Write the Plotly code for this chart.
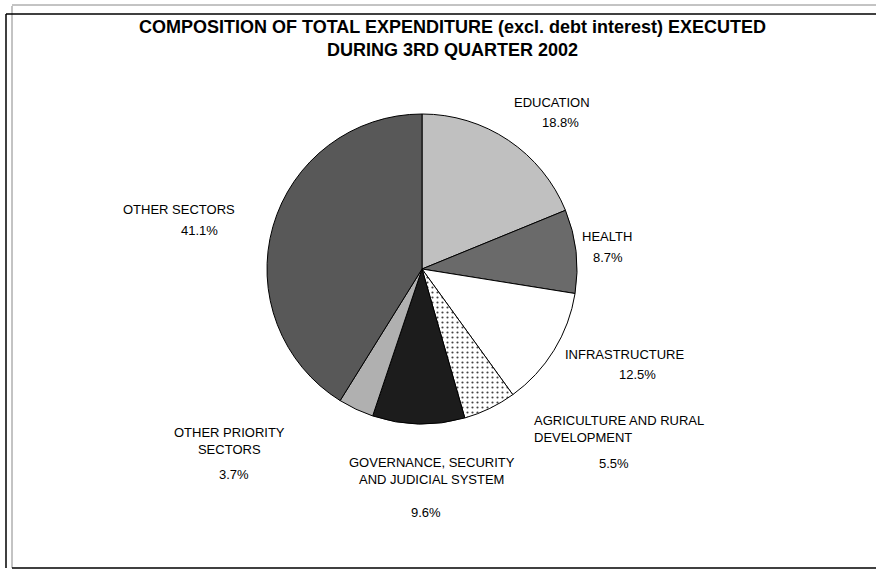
import plotly.graph_objects as go

W, H = 876, 572

categories = ["EDUCATION", "HEALTH", "INFRASTRUCTURE", "AGRICULTURE AND RURAL DEVELOPMENT",
              "GOVERNANCE, SECURITY AND JUDICIAL SYSTEM", "OTHER PRIORITY SECTORS", "OTHER SECTORS"]
values = [18.8, 8.7, 12.5, 5.5, 9.6, 3.7, 41.1]
value_labels = ["18.8%", "8.7%", "12.5%", "5.5%", "9.6%", "3.7%", "41.1%"]

colors = ["#c0c0c0", "#6a6a6a", "#ffffff", "#ffffff", "#1c1c1c", "#b0b0b0", "#585858"]
shapes_pat = ["", "", "", ".", "", "", ""]

fig = go.Figure(go.Pie(
    labels=categories,
    values=values,
    sort=False,
    direction="clockwise",
    rotation=0,
    textinfo="none",
    hoverinfo="label+percent",
    marker=dict(colors=colors,
                line=dict(color="black", width=1),
                pattern=dict(shape=shapes_pat, fgcolor="#444444", bgcolor=colors,
                             size=5, solidity=0.15)),
    domain=dict(x=[267 / W, 577 / W], y=[1 - 424 / H, 1 - 114 / H]),
    showlegend=False,
))

def px(x):
    return x / W

def py(y):
    return 1 - y / H

font = dict(family="Liberation Sans, Arial", size=13, color="black")

# (name text, x, y, align), (value text, x, y)
label_specs = [
    ("EDUCATION", 552, 102, "center", value_labels[0], 560, 122),
    ("HEALTH", 607, 236, "center", value_labels[1], 608, 257),
    ("INFRASTRUCTURE", 624, 354, "center", value_labels[2], 637, 374),
    ("AGRICULTURE AND RURAL<br>DEVELOPMENT", 532, 429, "left", value_labels[3], 614, 463),
    ("GOVERNANCE, SECURITY<br>AND JUDICIAL SYSTEM", 432, 471, "center", value_labels[4], 426, 512),
    ("OTHER PRIORITY<br>SECTORS", 229, 441, "center", value_labels[5], 234, 474),
    ("OTHER SECTORS", 179, 209, "center", value_labels[6], 199, 230),
]

annotations = []
for name, nx, ny, al, val, vx, vy in label_specs:
    xanchor = "left" if al == "left" else "center"
    annotations.append(dict(text=name, x=px(nx), y=py(ny), xref="paper", yref="paper",
                            xanchor=xanchor, yanchor="middle", align=al, showarrow=False,
                            font=font))
    annotations.append(dict(text=val, x=px(vx), y=py(vy), xref="paper", yref="paper",
                            xanchor="center", yanchor="middle", showarrow=False, font=font))

annotations.append(dict(
    text="<b>COMPOSITION OF TOTAL EXPENDITURE (excl. debt interest) EXECUTED</b><br><b>DURING 3RD QUARTER 2002</b>",
    x=px(452), y=py(38), xref="paper", yref="paper", xanchor="center", yanchor="middle",
    showarrow=False, align="center",
    font=dict(family="Liberation Sans, Arial", size=18, color="black")))

shapes = [
    dict(type="line", xref="paper", yref="paper", x0=px(6), x1=px(6), y0=py(14), y1=py(568),
         line=dict(color="black", width=1.5)),
    dict(type="line", xref="paper", yref="paper", x0=px(12), x1=px(12), y0=py(6), y1=py(568),
         line=dict(color="#888888", width=1)),
    dict(type="line", xref="paper", yref="paper", x0=px(6), x1=px(876), y0=py(14), y1=py(14),
         line=dict(color="black", width=1.5)),
    dict(type="line", xref="paper", yref="paper", x0=px(12), x1=px(876), y0=py(5), y1=py(5),
         line=dict(color="#888888", width=1)),
    dict(type="line", xref="paper", yref="paper", x0=px(12), x1=px(876), y0=py(568), y1=py(568),
         line=dict(color="black", width=1.5)),
]

fig.update_layout(
    width=W, height=H,
    margin=dict(l=0, r=0, t=0, b=0),
    paper_bgcolor="white",
    plot_bgcolor="white",
    annotations=annotations,
    shapes=shapes,
)

fig.write_html("out.html", config={"displayModeBar": False},
               post_script="document.body.style.margin='0';document.body.style.overflow='hidden';")
